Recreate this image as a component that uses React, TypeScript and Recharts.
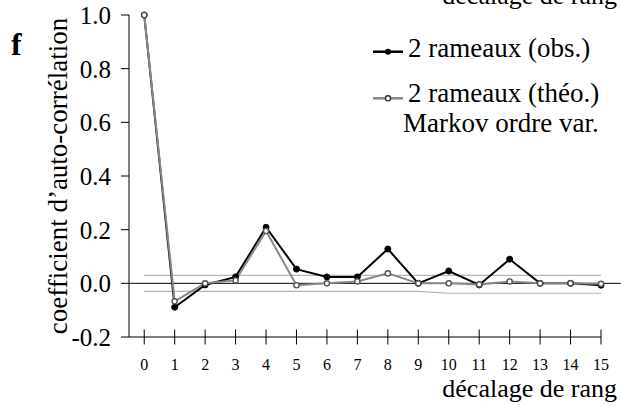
import { Legend, Line, LineChart, ReferenceLine, XAxis, YAxis } from "recharts";

document.body.style.margin = "0";

const serif = "'Liberation Serif', 'Times New Roman', serif";

const lags = [0, 1, 2, 3, 4, 5, 6, 7, 8, 9, 10, 11, 12, 13, 14, 15];
const observed = [1.0, -0.089, -0.006, 0.024, 0.209, 0.053, 0.024, 0.024, 0.128, 0.0, 0.046, -0.006, 0.09, 0.0, 0.0, -0.007];
const theoretical = [1.0, -0.067, 0.0, 0.011, 0.195, -0.007, 0.0, 0.007, 0.037, 0.0, 0.0, -0.004, 0.007, 0.0, 0.0, -0.002];
const upperBound = [0.03, 0.03, 0.03, 0.03, 0.03, 0.03, 0.03, 0.03, 0.03, 0.03, 0.03, 0.03, 0.03, 0.03, 0.03, 0.03];
const lowerBound = [-0.03, -0.03, -0.03, -0.03, -0.03, -0.03, -0.03, -0.03, -0.03, -0.03, -0.037, -0.037, -0.037, -0.037, -0.037, -0.037];
const yTicks = [-0.2, 0, 0.2, 0.4, 0.6, 0.8, 1.0];

const data = lags.map((lag, i) => ({
  lag,
  obs: observed[i],
  theo: theoretical[i],
  upper: upperBound[i],
  lower: lowerBound[i],
}));

function LagTick(props: any) {
  const { x, y, payload } = props;
  return (
    <g>
      <line x1={x} x2={x} y1={y - 7.5} y2={y + 7.5} stroke="#000" strokeWidth={1} />
      <text x={x} y={y + 33} textAnchor="middle" fontSize={16} fontFamily={serif} fill="#000">
        {payload.value}
      </text>
    </g>
  );
}

function ValueTick(props: any) {
  const { x, y, payload } = props;
  return (
    <text x={x} y={y} dy="0.355em" textAnchor="end" fontSize={25} fontFamily={serif} fill="#000">
      {Number(payload.value).toFixed(1)}
    </text>
  );
}

function HollowDot(props: any) {
  const { cx, cy, index } = props;
  if (cx == null || cy == null) return null;
  return <circle key={index} cx={cx} cy={cy} r={2.6} fill="#fff" stroke="#555" strokeWidth={1.4} />;
}

function renderLegend() {
  return (
    <svg width={251} height={115} style={{ fontFamily: serif }}>
      <line x1={3} x2={33} y1={21.7} y2={21.7} stroke="#000" strokeWidth={2.5} />
      <circle cx={18} cy={21.7} r={3} fill="#000" />
      <text x={38} y={26.7} fontSize={27} fill="#000">2 rameaux (obs.)</text>
      <line x1={3} x2={33} y1={68.3} y2={68.3} stroke="#888" strokeWidth={2.5} />
      <circle cx={18} cy={68.3} r={2.6} fill="#fff" stroke="#333" strokeWidth={1.4} />
      <text x={38} y={71.5} fontSize={27} fill="#000">2 rameaux (théo.)</text>
      <text x={33} y={101.7} fontSize={27} fill="#000">Markov ordre var.</text>
    </svg>
  );
}

export default function App() {
  return (
    <div style={{ position: "relative", width: 621, height: 406, background: "#fff", fontFamily: serif }}>
      <LineChart width={621} height={406} data={data} margin={{ top: 15, right: 20, bottom: 0, left: 0 }}>
        <XAxis
          dataKey="lag"
          type="number"
          domain={[-0.5, 15]}
          ticks={lags}
          height={69}
          tickSize={0}
          tickMargin={0}
          tickLine={false}
          tick={<LagTick />}
          axisLine={{ stroke: "#000", strokeWidth: 1 }}
          label={{
            content: (p: any) => {
              const vb = p.viewBox;
              return (
                <text x={vb.x + vb.width + 16} y={vb.y + 60} textAnchor="end" fontSize={26} fontFamily={serif} fill="#000">
                  décalage de rang
                </text>
              );
            },
          }}
        />
        <YAxis
          type="number"
          domain={[-0.2, 1]}
          ticks={yTicks}
          width={129}
          tickSize={8}
          tickMargin={10}
          tick={<ValueTick />}
          tickLine={{ stroke: "#000" }}
          axisLine={{ stroke: "#000", strokeWidth: 1 }}
          label={{
            content: (p: any) => {
              const vb = p.viewBox;
              const cy = vb.y + vb.height / 2;
              return (
                <text x={67} y={cy} transform={`rotate(-90, 67, ${cy})`} textAnchor="middle" fontSize={27} fontFamily={serif} fill="#000">
                  coefficient d’auto-corrélation
                </text>
              );
            },
          }}
        />
        <ReferenceLine
          segment={[{ x: -0.5, y: 0 }, { x: 15.65, y: 0 }]}
          ifOverflow="visible"
          stroke="#000"
          strokeWidth={1}
        />
        <Line dataKey="upper" stroke="#b5b5b5" strokeWidth={1.2} dot={false} isAnimationActive={false} legendType="none" />
        <Line dataKey="lower" stroke="#b5b5b5" strokeWidth={1.2} dot={false} isAnimationActive={false} legendType="none" />
        <Line
          dataKey="obs"
          stroke="#000"
          strokeWidth={2}
          dot={{ r: 3, fill: "#000", stroke: "#000", strokeWidth: 1 }}
          isAnimationActive={false}
        />
        <Line dataKey="theo" stroke="#888" strokeWidth={2} dot={<HollowDot />} isAnimationActive={false} />
        <Legend
          layout="vertical"
          align="center"
          verticalAlign="middle"
          content={renderLegend}
          wrapperStyle={{ left: 370, top: 30, width: 251, height: 115 }}
        />
      </LineChart>
      <svg
        width={621}
        height={406}
        style={{ position: "absolute", left: 0, top: 0, pointerEvents: "none", fontFamily: serif }}
      >
        <text x={11} y={55} fontSize={32} fontWeight="bold" fill="#000">f</text>
        <text x={617} y={4} textAnchor="end" fontSize={26} fill="#000">décalage de rang</text>
      </svg>
    </div>
  );
}
